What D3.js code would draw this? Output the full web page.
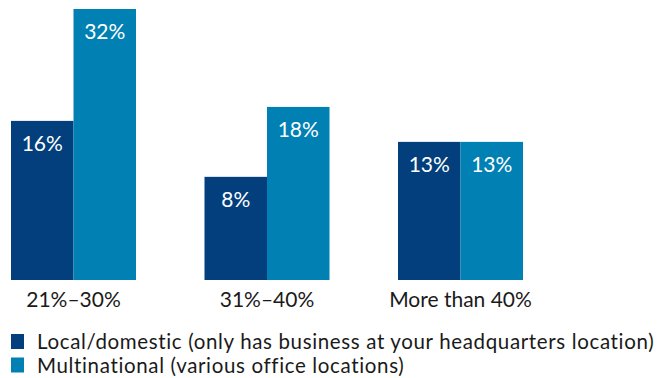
<!DOCTYPE html>
<html><head><meta charset="utf-8">
<script src="https://cdn.jsdelivr.net/npm/d3@7"></script>
<style>body{margin:0;background:#fff;} svg{display:block;}</style>
</head><body>
<script>
const categories = ["21%–30%", "31%–40%", "More than 40%"];
const seriesNames = ["Local/domestic (only has business at your headquarters location)", "Multinational (various office locations)"];
const localValues = [16, 8, 13];
const multiValues = [32, 18, 13];
const colors = ["#023f7c", "#0080b3"];

const W = 659, H = 378;
const font = "Lato, 'Noto Sans', sans-serif";
const svg = d3.select("body").append("svg").attr("width", W).attr("height", H);

const x0 = d3.scaleBand().domain(categories).range([11, 523]).paddingInner(0.354).paddingOuter(0);
const x = d3.scaleBand().domain([0, 1]).range([0, x0.bandwidth()]);
const y = d3.scaleLinear().domain([-6.75, 32]).range([280, 9]);

const data = categories.map((c, i) => ({cat: c, vals: [localValues[i], multiValues[i]]}));

const g = svg.selectAll("g.grp").data(data).enter().append("g")
  .attr("transform", d => `translate(${x0(d.cat)},0)`);

g.selectAll("rect").data(d => d.vals).enter().append("rect")
  .attr("x", (v, j) => x(j)).attr("width", x.bandwidth())
  .attr("y", v => y(v)).attr("height", v => y(-6.75) - y(v))
  .attr("fill", (v, j) => colors[j]);

g.selectAll("text.val").data(d => d.vals).enter().append("text")
  .attr("class", "val")
  .attr("x", (v, j) => x(j) + x.bandwidth() / 2)
  .attr("y", v => y(v) + 30)
  .attr("text-anchor", "middle").attr("fill", "#fff")
  .style("font-family", font).style("font-size", "21px")
  .text(v => v + "%");

svg.selectAll("text.cat").data(categories).enter().append("text")
  .attr("class", "cat")
  .attr("x", c => x0(c) + x0.bandwidth() / 2)
  .attr("y", 307)
  .attr("text-anchor", "middle").attr("fill", "#1a1a1a")
  .style("font-family", font).style("font-size", "21px")
  .text(c => c);

const leg = svg.selectAll("g.leg").data(seriesNames).enter().append("g")
  .attr("transform", (d, i) => `translate(0,${i * 23.5})`);
leg.append("rect").attr("x", 11).attr("y", 334).attr("width", 13).attr("height", 15)
  .attr("fill", (d, i) => colors[i]);
const lt = leg.append("text").attr("x", 37).attr("y", 349).attr("fill", "#1a1a1a")
  .style("font-family", font).style("font-size", "20.5px").text(d => d);
const first = lt.nodes()[0];
const w0 = first.getComputedTextLength();
const n = seriesNames[0].length;
const ls = Math.max(0, (618 - w0) / n);
lt.style("letter-spacing", ls + "px");
</script>
</body></html>
